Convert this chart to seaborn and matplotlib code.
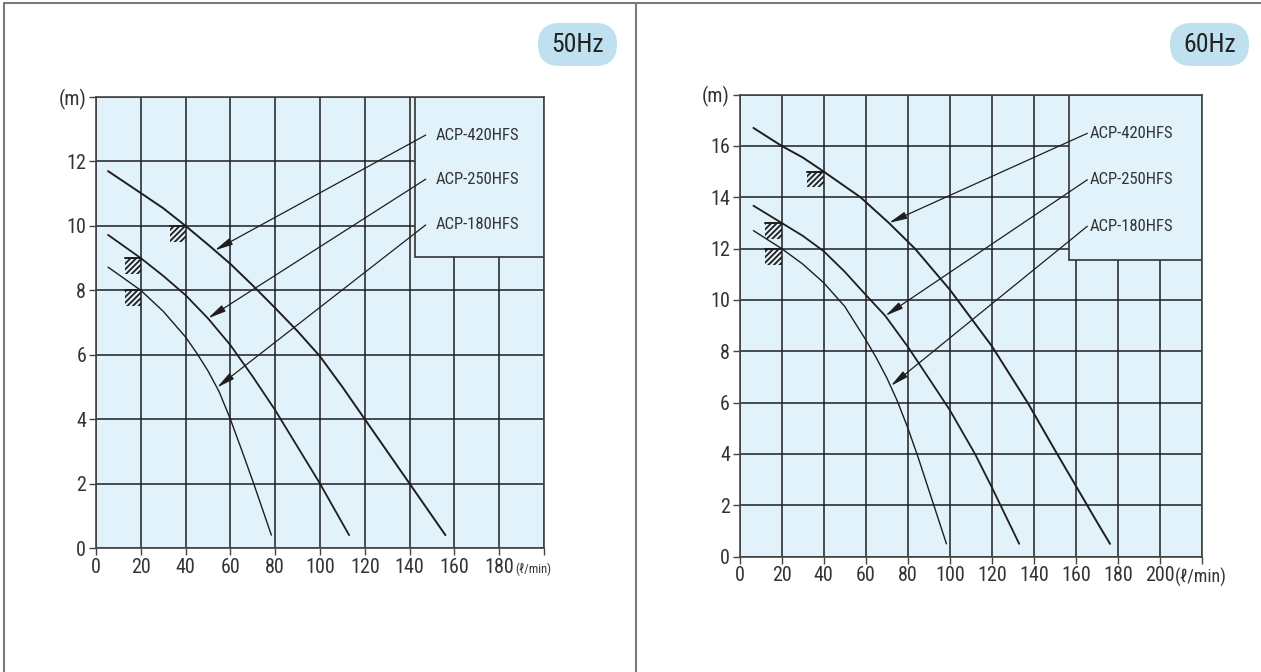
import numpy as np
import pandas as pd
import matplotlib
matplotlib.use('Agg')
import matplotlib.pyplot as plt
import seaborn as sns
from matplotlib import font_manager
from matplotlib.patches import Rectangle, FancyBboxPatch
from matplotlib.lines import Line2D

# --- data (flow l/min, head m) ---
models = ['ACP-420HFS', 'ACP-250HFS', 'ACP-180HFS']

# 50Hz
q50_420 = [5.4, 20, 30, 40, 50, 60, 70, 80, 90, 100, 110, 120, 130, 140, 150, 156]
h50_420 = [11.7, 11.02, 10.55, 10.0, 9.42, 8.82, 8.15, 7.45, 6.73, 5.95, 5.0, 4.0, 3.0, 2.0, 1.0, 0.4]
q50_250 = [5.4, 20, 30, 40, 50, 60, 70, 80, 90, 100, 113]
h50_250 = [9.72, 9.0, 8.45, 7.85, 7.13, 6.3, 5.32, 4.28, 3.14, 2.0, 0.4]
q50_180 = [5.4, 20, 30, 40, 45, 50, 55, 60, 65, 70, 75, 78.3]
h50_180 = [8.72, 8.0, 7.35, 6.55, 6.05, 5.5, 4.85, 4.0, 3.05, 2.08, 1.07, 0.4]

# 60Hz
q60_420 = [6.6, 20, 30, 40, 57.5, 71, 83.4, 100, 120, 137, 150, 160, 170, 176.2]
h60_420 = [16.7, 16.0, 15.55, 15.0, 14.0, 13.0, 12.0, 10.4, 8.2, 6.0, 4.15, 2.75, 1.35, 0.5]
q60_250 = [6.6, 20, 30, 40, 50, 60, 69.3, 80, 90, 100, 112, 120, 133]
h60_250 = [13.67, 13.0, 12.5, 11.9, 11.1, 10.2, 9.38, 8.18, 6.95, 5.71, 4.0, 2.7, 0.5]
q60_180 = [6.6, 20, 30, 40, 50, 60, 65, 70, 75, 80, 85, 90, 95, 98.4]
h60_180 = [12.7, 12.0, 11.4, 10.67, 9.75, 8.45, 7.75, 6.97, 6.07, 5.02, 3.85, 2.6, 1.35, 0.5]

# rated points (hatched marks) and points where the leader arrows touch the curves
rated50 = [(40, 10), (20, 9), (20, 8)]
rated60 = [(40, 15), (20, 13), (20, 12)]
tips50 = [(53, 9.24), (50, 7.13), (54, 4.98)]
tips60 = [(71, 13.0), (69.3, 9.38), (71.9, 6.65)]


def make_df(curves):
    rows = []
    for name, (q, h) in zip(models, curves):
        for a, b in zip(q, h):
            rows.append({'model': name, 'flow': a, 'head': b})
    return pd.DataFrame(rows)


df50 = make_df([(q50_420, h50_420), (q50_250, h50_250), (q50_180, h50_180)])
df60 = make_df([(q60_420, h60_420), (q60_250, h60_250), (q60_180, h60_180)])

BG = '#e1f2fa'
BADGE = '#bfe1ef'
INK = '#1e1e1e'

sns.set_theme(style='white')
names = {f.name for f in font_manager.fontManager.ttflist}
narrow = [n for n in ['Liberation Sans Narrow', 'Roboto Condensed', 'Open Sans Condensed',
                      'Noto Sans Condensed'] if n in names]
plt.rcParams['font.family'] = narrow + ['DejaVu Sans']
plt.rcParams['font.stretch'] = 'condensed'
plt.rcParams['hatch.linewidth'] = 1.3
plt.rcParams['axes.axisbelow'] = True

fig = plt.figure(figsize=(12.61, 6.72), dpi=100)


def draw_panel(ax, df, xmax, ymax, rated, tips, box, label_x, label_ys, lead_x,
               hatch_w, hatch_h, unit_size, unit_dx):
    ax.set_facecolor(BG)
    widths = {'ACP-420HFS': 1.4, 'ACP-250HFS': 1.3, 'ACP-180HFS': 1.0}
    for name in models:
        sns.lineplot(data=df[df['model'] == name], x='flow', y='head', color=INK,
                     lw=widths[name], ax=ax, sort=False, legend=False, zorder=3)
    ax.set_xlim(0, xmax)
    ax.set_ylim(0, ymax)
    xt = np.arange(0, xmax + 1, 20)
    yt = np.arange(0, ymax + 1, 2)
    ax.set_xticks(xt)
    ax.set_yticks(yt)
    ax.set_xticklabels([str(v) for v in xt[:-1]] + [''])
    ax.set_yticklabels([str(v) for v in yt[:-1]] + ['(m)'])
    ax.grid(True, color=INK, lw=1.1)
    ax.tick_params(axis='both', direction='out', length=5, width=1.0, color='#444',
                   labelsize=14.5, labelcolor='#333', pad=2,
                   bottom=True, left=True)
    for s in ax.spines.values():
        s.set_color('#444')
        s.set_linewidth(1.2)
    ax.set_xlabel('')
    ax.set_ylabel('')

    # unit label sits next to the last numbered x tick
    ax.annotate('(ℓ/min)', xy=(xmax, 0), xycoords='data', xytext=(unit_dx, -15),
                textcoords='offset points', ha='left', va='center',
                fontsize=unit_size, color='#333', annotation_clip=False)

    # box holding the model names, covers the grid
    bx, by = box
    ax.add_patch(Rectangle((bx, by), xmax - bx, ymax - by, facecolor=BG,
                           edgecolor='#333', lw=1.2, zorder=1.5))

    # hatched marks at the rated points
    for (rx, ry) in rated:
        ax.add_patch(Rectangle((rx - hatch_w, ry - hatch_h), hatch_w, hatch_h,
                               facecolor='none', edgecolor=INK, lw=0, hatch='//////', zorder=2))
        ax.plot([rx - hatch_w, rx], [ry, ry], color=INK, lw=1.4, zorder=2)

    # labels and leader arrows
    for name, ly, (tx, ty) in zip(models, label_ys, tips):
        ax.text(label_x, ly, name, fontsize=12, color='#333', ha='left', va='center', zorder=4)
        ax.annotate('', xy=(tx, ty), xytext=(lead_x, ly),
                    arrowprops=dict(arrowstyle='-|>,head_length=0.9,head_width=0.18',
                                    color=INK, lw=0.9, shrinkA=0, shrinkB=0),
                    zorder=4)
    return ax


ax1 = fig.add_axes([0.0761, 0.1845, 0.3553, 0.6711])
draw_panel(ax1, df50, 200, 14, rated50, tips50, (142.4, 9.04), 151.8,
           [12.82, 11.45, 10.03], 147.2, 7, 0.5, 9, -20.5)

ax2 = fig.add_axes([0.5865, 0.1716, 0.3668, 0.6877])
draw_panel(ax2, df60, 220, 18, rated60, tips60, (156.7, 11.56), 166.7,
           [16.49, 14.68, 12.87], 165.4, 8, 0.62, 13, -19.5)

# badges
for x0, txt in [(5.38, '50Hz'), (11.70, '60Hz')]:
    fig.patches.append(FancyBboxPatch((x0, 6.06), 0.79, 0.43,
                                      boxstyle='round,pad=0,rounding_size=0.215',
                                      transform=fig.dpi_scale_trans, facecolor=BADGE,
                                      edgecolor='none'))
    fig.text(x0 + 0.395, 6.06 + 0.215, txt, transform=fig.dpi_scale_trans,
             ha='center', va='center', fontsize=18.5, color='#222')

# page frame
frame = dict(color='#7a7a7a', lw=1.5, transform=fig.transFigure)
fig.lines.append(Line2D([0.003, 0.003], [0, 0.995], **frame))
fig.lines.append(Line2D([0.003, 1], [0.995, 0.995], **frame))
fig.lines.append(Line2D([0.5044, 0.5044], [0, 0.995], **frame))

fig.savefig('out.png', dpi=100, facecolor='white')
